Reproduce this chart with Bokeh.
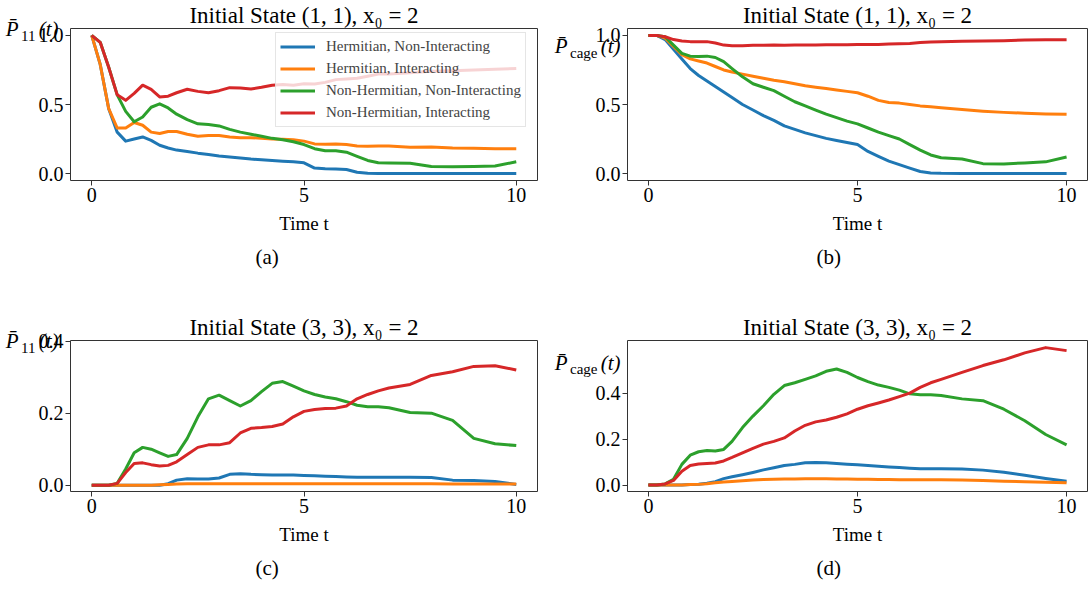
from bokeh.plotting import figure
from bokeh.models import (Legend, LegendItem, FixedTicker, Range1d, PrintfTickFormatter, Title,
                          LinearAxis)
from bokeh.layouts import column, row
from bokeh.embed import file_html
from bokeh.resources import INLINE

# ---------------- data ----------------
T = [0, 0.2, 0.4, 0.6, 0.8, 1.0, 1.2, 1.4, 1.6, 1.8, 2.0, 2.25, 2.5, 2.75, 3.0, 3.25, 3.5,
     3.75, 4.0, 4.25, 4.5, 4.75, 5.0, 5.25, 5.5, 5.75, 6.0, 6.25, 6.5, 6.75, 7.0, 7.5, 8.0,
     8.5, 9.0, 9.5, 10.0]

NAMES = ["Hermitian, Non-Interacting", "Hermitian, Interacting",
         "Non-Hermitian, Non-Interacting", "Non-Hermitian, Interacting"]

# panel (a): P11(t), initial state (1,1)
a_herm_nonint = [1.0, 0.79, 0.47, 0.30, 0.235, 0.25, 0.265, 0.24, 0.205, 0.185, 0.17, 0.16, 0.148,
                 0.138, 0.128, 0.12, 0.112, 0.105, 0.10, 0.095, 0.09, 0.085, 0.078, 0.04, 0.035,
                 0.033, 0.03, 0.01, 0.002, 0.0, 0.0, 0.0, 0.0, 0.0, 0.0, 0.0, 0.0]
a_herm_int = [1.0, 0.79, 0.47, 0.33, 0.33, 0.37, 0.35, 0.30, 0.29, 0.305, 0.305, 0.285, 0.27,
              0.275, 0.275, 0.265, 0.26, 0.26, 0.255, 0.25, 0.248, 0.245, 0.235, 0.215, 0.212,
              0.215, 0.21, 0.20, 0.197, 0.20, 0.20, 0.19, 0.192, 0.185, 0.183, 0.18, 0.18]
a_nonh_nonint = [1.0, 0.95, 0.77, 0.57, 0.45, 0.375, 0.41, 0.48, 0.505, 0.475, 0.43, 0.39, 0.36,
                 0.355, 0.345, 0.32, 0.30, 0.285, 0.27, 0.255, 0.245, 0.23, 0.21, 0.18, 0.165,
                 0.165, 0.155, 0.125, 0.095, 0.078, 0.077, 0.075, 0.052, 0.05, 0.052, 0.055, 0.085]
a_nonh_int = [1.0, 0.95, 0.77, 0.57, 0.53, 0.58, 0.64, 0.61, 0.555, 0.56, 0.585, 0.61, 0.595,
              0.585, 0.60, 0.622, 0.62, 0.612, 0.625, 0.64, 0.645, 0.64, 0.65, 0.648, 0.66,
              0.68, 0.685, 0.69, 0.705, 0.72, 0.72, 0.73, 0.74, 0.745, 0.75, 0.755, 0.76]

# panel (b): Pcage(t), initial state (1,1)
b_herm_nonint = [1.0, 1.0, 0.97, 0.90, 0.83, 0.76, 0.71, 0.67, 0.63, 0.59, 0.55, 0.50, 0.46,
                 0.42, 0.385, 0.345, 0.32, 0.295, 0.275, 0.255, 0.24, 0.225, 0.21, 0.16, 0.125,
                 0.09, 0.065, 0.04, 0.015, 0.005, 0.002, 0.0, 0.0, 0.0, 0.0, 0.0, 0.0]
b_herm_int = [1.0, 1.0, 0.98, 0.92, 0.86, 0.83, 0.815, 0.80, 0.775, 0.75, 0.735, 0.72, 0.705,
              0.69, 0.675, 0.665, 0.65, 0.635, 0.625, 0.615, 0.605, 0.595, 0.585, 0.56, 0.53,
              0.515, 0.51, 0.50, 0.49, 0.483, 0.477, 0.463, 0.452, 0.443, 0.437, 0.432, 0.43]
b_nonh_nonint = [1.0, 1.0, 0.99, 0.93, 0.87, 0.85, 0.848, 0.85, 0.84, 0.81, 0.76, 0.70, 0.65,
                 0.625, 0.60, 0.56, 0.52, 0.49, 0.46, 0.43, 0.405, 0.38, 0.36, 0.33, 0.30,
                 0.275, 0.25, 0.21, 0.17, 0.135, 0.115, 0.105, 0.072, 0.07, 0.077, 0.085, 0.12]
b_nonh_int = [1.0, 1.0, 0.99, 0.97, 0.96, 0.955, 0.955, 0.955, 0.945, 0.93, 0.925, 0.925, 0.928,
              0.928, 0.93, 0.928, 0.93, 0.93, 0.93, 0.932, 0.933, 0.933, 0.935, 0.935, 0.935,
              0.937, 0.94, 0.942, 0.948, 0.953, 0.955, 0.958, 0.96, 0.962, 0.966, 0.968, 0.968]

# panel (c): P11(t), initial state (3,3)
c_herm_nonint = [0, 0, 0, 0, 0, 0, 0, 0, 0, 0.004, 0.014, 0.018, 0.017, 0.017, 0.02, 0.03, 0.032,
                 0.03, 0.029, 0.028, 0.028, 0.028, 0.027, 0.026, 0.025, 0.024, 0.023, 0.022,
                 0.022, 0.022, 0.022, 0.022, 0.021, 0.014, 0.013, 0.01, 0.002]
c_herm_int = [0, 0, 0, 0, 0, 0, 0, 0, 0.001, 0.002, 0.003, 0.004, 0.004, 0.004, 0.004, 0.004,
              0.004, 0.004, 0.004, 0.004, 0.004, 0.004, 0.004, 0.004, 0.004, 0.004, 0.004,
              0.004, 0.004, 0.004, 0.004, 0.004, 0.004, 0.003, 0.003, 0.003, 0.003]
c_nonh_nonint = [0, 0, 0, 0.005, 0.045, 0.09, 0.105, 0.10, 0.09, 0.08, 0.085, 0.13, 0.19, 0.24,
                 0.25, 0.235, 0.22, 0.235, 0.26, 0.283, 0.288, 0.275, 0.262, 0.252, 0.245, 0.24,
                 0.232, 0.222, 0.218, 0.218, 0.215, 0.202, 0.20, 0.18, 0.13, 0.115, 0.11]
c_nonh_int = [0, 0, 0, 0.005, 0.035, 0.06, 0.062, 0.057, 0.053, 0.055, 0.065, 0.085, 0.105, 0.112,
              0.112, 0.118, 0.145, 0.158, 0.16, 0.163, 0.17, 0.19, 0.205, 0.21, 0.213, 0.214,
              0.22, 0.24, 0.252, 0.262, 0.27, 0.28, 0.305, 0.315, 0.33, 0.332, 0.32]

# panel (d): Pcage(t), initial state (3,3)
d_herm_nonint = [0, 0, 0, 0, 0, 0.002, 0.004, 0.008, 0.015, 0.028, 0.036, 0.045, 0.055, 0.066,
                 0.075, 0.085, 0.09, 0.097, 0.098, 0.097, 0.094, 0.091, 0.088, 0.085, 0.082,
                 0.079, 0.076, 0.073, 0.071, 0.071, 0.071, 0.07, 0.065, 0.056, 0.043, 0.029, 0.017]
d_herm_int = [0, 0, 0, 0, 0, 0.002, 0.003, 0.006, 0.01, 0.013, 0.016, 0.019, 0.022, 0.024, 0.025,
              0.026, 0.026, 0.027, 0.027, 0.027, 0.026, 0.026, 0.025, 0.025, 0.024, 0.024, 0.023,
              0.023, 0.023, 0.023, 0.023, 0.022, 0.02, 0.017, 0.014, 0.012, 0.01]
d_nonh_nonint = [0, 0, 0.005, 0.025, 0.09, 0.13, 0.145, 0.15, 0.148, 0.155, 0.19, 0.25, 0.30,
                 0.345, 0.395, 0.433, 0.445, 0.46, 0.475, 0.495, 0.505, 0.49, 0.468, 0.45, 0.435,
                 0.425, 0.413, 0.397, 0.393, 0.393, 0.39, 0.375, 0.367, 0.33, 0.28, 0.22, 0.175]
d_nonh_int = [0, 0, 0.005, 0.02, 0.06, 0.085, 0.092, 0.094, 0.096, 0.105, 0.12, 0.14, 0.16, 0.178,
              0.19, 0.205, 0.235, 0.26, 0.275, 0.283, 0.295, 0.31, 0.33, 0.345, 0.357, 0.37,
              0.385, 0.40, 0.425, 0.445, 0.46, 0.49, 0.52, 0.545, 0.575, 0.598, 0.585]

X_TICKS = [0, 5, 10]
Y_TICKS_TOP = [0.0, 0.5, 1.0]
Y_TICKS_BOTTOM = [0.0, 0.2, 0.4]

# ---------------- styling ----------------
COLORS = ["#1f77b4", "#ff7f0e", "#2ca02c", "#d62728"]
FONT = "Liberation Serif"
SPINE = "#333333"
NB = "\u00a0"


def make_panel(width, height, left, right, top, bottom, yr, yticks, series, state):
    p = figure(width=width, height=height, min_border_left=left, min_border_right=right,
               min_border_top=top, min_border_bottom=bottom,
               x_range=Range1d(-0.5, 10.5), y_range=Range1d(*yr),
               output_backend="svg", toolbar_location=None, tools="")
    p.xgrid.visible = False
    p.ygrid.visible = False
    p.outline_line_color = SPINE
    p.outline_line_width = 1
    p.background_fill_color = "white"
    p.border_fill_color = "white"
    for ax in (p.xaxis[0], p.yaxis[0]):
        ax.axis_line_color = None
        ax.major_tick_in = 0
        ax.major_tick_out = 5
        ax.major_tick_line_color = SPINE
        ax.minor_tick_line_color = None
        ax.major_label_text_font = FONT
        ax.major_label_text_font_size = "20px"
        ax.major_label_text_color = "black"
        ax.major_label_standoff = 2
    p.xaxis[0].ticker = FixedTicker(ticks=X_TICKS)
    p.yaxis[0].ticker = FixedTicker(ticks=yticks)
    p.yaxis[0].formatter = PrintfTickFormatter(format="%.1f")
    # x axis label
    p.xaxis[0].axis_label = "Time t"
    p.xaxis[0].axis_label_text_font = FONT
    p.xaxis[0].axis_label_text_font_size = "19px"
    p.xaxis[0].axis_label_text_font_style = "normal"
    p.xaxis[0].axis_label_text_color = "black"
    p.xaxis[0].axis_label_standoff = 8
    # title
    p.title.text = f"Initial State ({state}, {state}), x\u2080 = 2"
    p.title.text_font = FONT
    p.title.text_font_size = "23px"
    p.title.text_font_style = "normal"
    p.title.text_color = "black"
    p.title.align = "center"
    p.title.standoff = 1
    rs = [p.line(T, s, line_color=c, line_width=3, line_join="round")
          for s, c in zip(series, COLORS)]
    return p, rs


def add_caption(p, text, offset):
    p.add_layout(Title(text=text, align="left", offset=offset, standoff=12,
                       text_font=FONT, text_font_size="21px", text_font_style="normal",
                       text_color="black"), "below")


def label_axis(p, text, val, size, style, standoff):
    ax = LinearAxis(ticker=FixedTicker(ticks=[val]), formatter=PrintfTickFormatter(format=text))
    ax.axis_line_color = None
    ax.major_tick_line_color = None
    ax.minor_tick_line_color = None
    ax.major_tick_in = 0
    ax.major_tick_out = 0
    ax.minor_tick_in = 0
    ax.minor_tick_out = 0
    ax.major_label_standoff = standoff
    ax.major_label_text_font = FONT
    ax.major_label_text_font_size = size
    ax.major_label_text_font_style = style
    ax.major_label_text_color = "black"
    p.add_layout(ax, "left")


def ylabel(p, sub, main_val, sub_val, t_text, s1, s2):
    # stacked right-to-left next to the tick labels: "(t)", subscript, "P̄"
    label_axis(p, t_text, main_val, "21px", "italic", s1)
    label_axis(p, sub, sub_val, "15px", "normal", s2)
    label_axis(p, "P\u0304", main_val, "21px", "italic", 0)


pa, ra = make_panel(544, 300, 70, 7, 28, 120, (-0.05, 1.05), Y_TICKS_TOP,
                    [a_herm_nonint, a_herm_int, a_nonh_nonint, a_nonh_int], 1)
pb, _ = make_panel(544, 300, 83, 1, 24, 120, (-0.05, 1.05), Y_TICKS_TOP,
                   [b_herm_nonint, b_herm_int, b_nonh_nonint, b_nonh_int], 1)
pc, _ = make_panel(544, 293, 70, 7, 40, 101, (-0.0176, 0.402), Y_TICKS_BOTTOM,
                   [c_herm_nonint, c_herm_int, c_nonh_nonint, c_nonh_int], 3)
pd, _ = make_panel(544, 293, 83, 1, 32, 102, (-0.028, 0.629), Y_TICKS_BOTTOM,
                   [d_herm_nonint, d_herm_int, d_nonh_nonint, d_nonh_int], 3)

add_caption(pa, "(a)", 185)
add_caption(pb, "(b)", 189)
add_caption(pc, "(c)", 185)
add_caption(pd, "(d)", 189)

ylabel(pa, "11", 1.0495, 0.999, NB + "(t)", -23, -5)
ylabel(pb, "cage", 0.923, 0.872, NB + NB + "(t)", -28, -10)
ylabel(pc, "11", 0.4015, 0.3822, NB + "(t)", -23, -5)
ylabel(pd, "cage", 0.532, 0.503, NB + NB + "(t)", -28, -10)

legend = Legend(items=[LegendItem(label=n, renderers=[r]) for n, r in zip(NAMES, ra)],
                location=(205, 53), margin=0, padding=4, spacing=3,
                glyph_width=35, glyph_height=19, label_height=19, label_standoff=11,
                label_text_font=FONT, label_text_font_size="15px",
                background_fill_color="white", background_fill_alpha=0.8,
                border_line_color="#cccccc", border_line_width=1)
pa.add_layout(legend)

layout = column(row(pa, pb), row(pc, pd))
open("out.html", "w").write(file_html(layout, INLINE))
